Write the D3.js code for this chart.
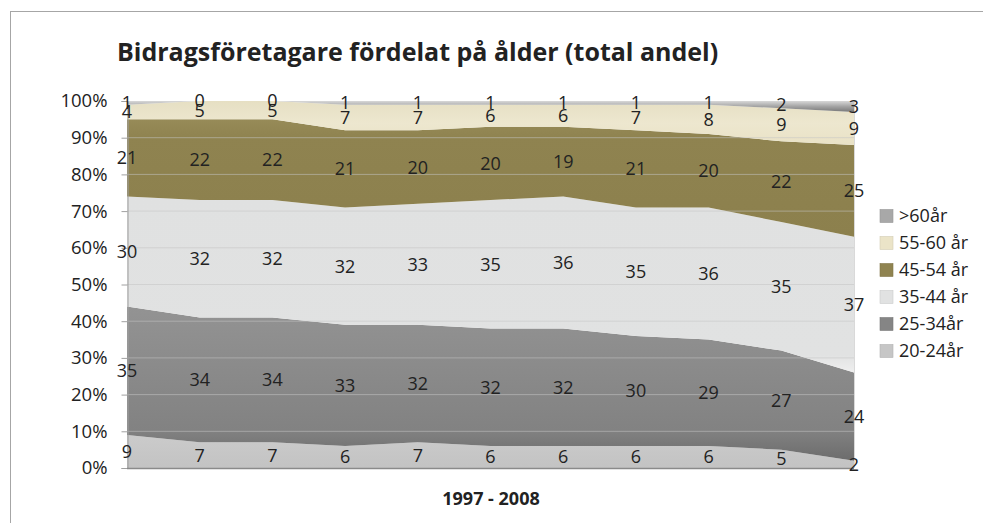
<!DOCTYPE html>
<html>
<head>
<meta charset="utf-8">
<script src="https://cdn.jsdelivr.net/npm/d3@7"></script>
<style>
  body { margin: 0; background: #fff; }
  text { font-family: "Open Sans", "DejaVu Sans", sans-serif; fill: #222; }
</style>
</head>
<body>
<div class="chart"></div>
<script>
// andel per åldersgrupp (procent), 11 mätpunkter 1997 - 2008
const points = ["p0", "p1", "p2", "p3", "p4", "p5", "p6", "p7", "p8", "p9", "p10"];
const age2024 = [9, 7, 7, 6, 7, 6, 6, 6, 6, 5, 2];
const age2534 = [35, 34, 34, 33, 32, 32, 32, 30, 29, 27, 24];
const age3544 = [30, 32, 32, 32, 33, 35, 36, 35, 36, 35, 37];
const age4554 = [21, 22, 22, 21, 20, 20, 19, 21, 20, 22, 25];
const age5560 = [4, 5, 5, 7, 7, 6, 6, 7, 8, 9, 9];
const age60 = [1, 0, 0, 1, 1, 1, 1, 1, 1, 2, 3];
const seriesNames = ["20-24år", "25-34år", "35-44 år", "45-54 år", "55-60 år", ">60år"];
const yTicks = [0, 0.1, 0.2, 0.3, 0.4, 0.5, 0.6, 0.7, 0.8, 0.9, 1];

const createChart = () => {
    const width = 983, height = 523;
    const seriesValues = [age2024, age2534, age3544, age4554, age5560, age60];

    //one row per point, keyed by series name
    const rows = points.map((p, i) => {
        const row = { point: p };
        seriesNames.forEach((name, k) => { row[name] = seriesValues[k][i] / 100; });
        return row;
    });
    const stacked = d3.stack().keys(seriesNames)(rows);

    const x = d3.scalePoint().domain(points).range([127, 854]);
    const y = d3.scaleLinear().domain([0, 1]).range([468, 101]);

    const svg = d3.select(".chart").append("svg")
        .attr("width", width)
        .attr("height", height);

    //gradients to imitate the shaded Excel look
    const defs = svg.append("defs");
    const gradients = [
        { id: "g2024", stops: [["0", "#cbcbcb"], ["1", "#c3c3c3"]] },
        { id: "g2534", stops: [["0", "#939393"], ["0.8", "#828282"], ["1", "#6c6c6c"]] },
        { id: "g3544", stops: [["0", "#e0e1e1"], ["0.9", "#e1e2e2"], ["1", "#efefef"]] },
        { id: "g4554", stops: [["0", "#978b58"], ["0.15", "#8f8350"], ["1", "#8c804d"]] },
        { id: "g5560", stops: [["0", "#e6dfc3"], ["0.5", "#ede7cf"], ["1", "#e9e2c6"]] },
        { id: "g60", stops: [["0", "#d8d8d8"], ["0.5", "#a3a3a3"], ["1", "#777777"]] }
    ];
    gradients.forEach((g) => {
        const lg = defs.append("linearGradient")
            .attr("id", g.id)
            .attr("x1", 0).attr("y1", 0).attr("x2", 0).attr("y2", 1);
        g.stops.forEach((s) => lg.append("stop").attr("offset", s[0]).attr("stop-color", s[1]));
    });
    const fills = ["url(#g2024)", "url(#g2534)", "url(#g3544)", "url(#g4554)", "url(#g5560)", "url(#g60)"];
    const swatches = ["#c6c6c6", "#858585", "#e1e2e2", "#8f8350", "#ebe4c8", "#a8a8a8"];

    //outer frame
    svg.append("rect")
        .attr("x", 10.5).attr("y", 11.5)
        .attr("width", 1000).attr("height", 600)
        .attr("fill", "none")
        .attr("stroke", "#a6a6a6");

    //title
    svg.append("text")
        .text("Bidragsföretagare fördelat på ålder (total andel)")
        .attr("x", 117).attr("y", 61)
        .attr("font-size", 25)
        .attr("font-weight", "bold");

    //areas
    const area = d3.area()
        .x((d) => x(d.data.point))
        .y0((d) => y(d[0]))
        .y1((d) => y(d[1]));

    svg.append("g").selectAll("path")
        .data(stacked)
        .enter().append("path")
        .attr("d", area)
        .attr("fill", (d, i) => fills[i]);

    //faint gridlines over the areas
    svg.append("g").selectAll("line")
        .data(yTicks.slice(1, -1))
        .enter().append("line")
        .attr("x1", 127).attr("x2", 854)
        .attr("y1", (d) => y(d)).attr("y2", (d) => y(d))
        .attr("stroke", "#c4c4c4")
        .attr("stroke-opacity", 0.55);

    //right edge of the plot
    svg.append("line")
        .attr("x1", 854.5).attr("x2", 854.5)
        .attr("y1", y(1)).attr("y2", y(0))
        .attr("stroke", "#d9d9d9");

    //y axis
    const yAxis = d3.axisLeft(y)
        .tickValues(yTicks)
        .tickFormat(d3.format(".0%"))
        .tickSize(6)
        .tickPadding(14);
    const yg = svg.append("g")
        .attr("transform", "translate(127.5,0)")
        .call(yAxis);
    yg.select(".domain").attr("stroke", "#a0a0a0");
    yg.selectAll(".tick line").attr("stroke", "#a0a0a0");
    yg.selectAll(".tick text")
        .attr("font-size", 18.5)
        .attr("font-family", "Open Sans, sans-serif")
        .attr("fill", "#222");

    //x axis line
    svg.append("line")
        .attr("x1", 127).attr("x2", 854)
        .attr("y1", 468.5).attr("y2", 468.5)
        .attr("stroke", "#8a8a8a")
        .attr("stroke-width", 1.5);

    //data labels, centred in each band
    stacked.forEach((layer, k) => {
        svg.append("g").selectAll("text")
            .data(layer)
            .enter().append("text")
            .text((d, i) => seriesValues[k][i])
            .attr("x", (d) => x(d.data.point))
            .attr("y", (d) => y((d[0] + d[1]) / 2))
            .attr("dy", "0.36em")
            .attr("text-anchor", "middle")
            .attr("font-size", 18);
    });

    //x axis title
    svg.append("text")
        .text("1997 - 2008")
        .attr("x", 491).attr("y", 505)
        .attr("text-anchor", "middle")
        .attr("font-size", 18)
        .attr("font-weight", "bold");

    //legend, top entry is >60år
    const legendOrder = seriesNames.map((n, i) => i).reverse();
    const legend = svg.append("g").selectAll("g")
        .data(legendOrder)
        .enter().append("g")
        .attr("transform", (d, i) => `translate(880, ${216 + i * 27})`);

    legend.append("rect")
        .attr("x", 0).attr("y", -6.5)
        .attr("width", 13).attr("height", 13)
        .attr("fill", (d) => swatches[d])
        .attr("stroke", (d) => d3.color(swatches[d]).darker(0.3))
        .attr("stroke-width", 0.6);

    legend.append("text")
        .text((d) => seriesNames[d])
        .attr("x", 19)
        .attr("dy", "0.36em")
        .attr("font-size", 18);
};

createChart();
</script>
</body>
</html>
